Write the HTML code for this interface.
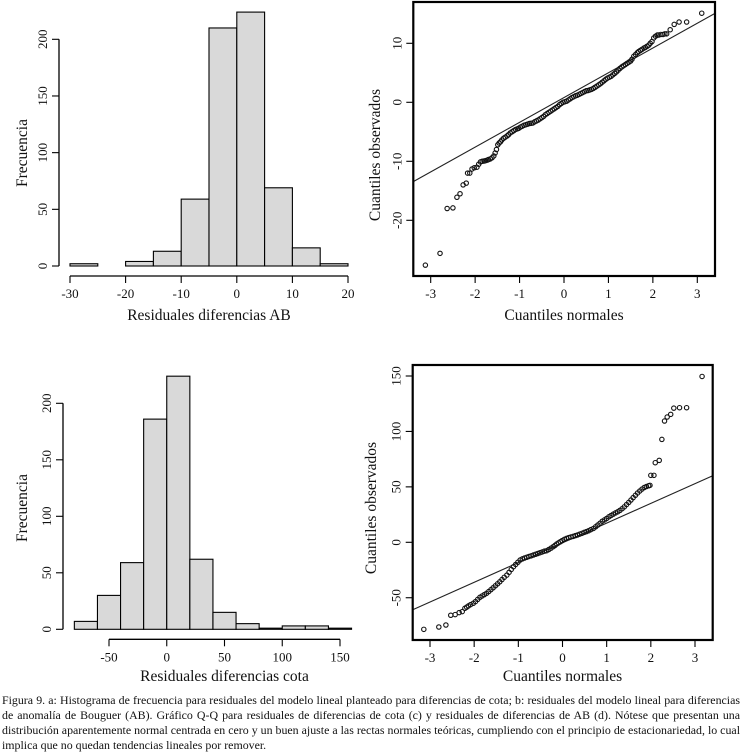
<!DOCTYPE html>
<html><head><meta charset="utf-8">
<style>
html,body{margin:0;padding:0;background:#fff;}
body{width:742px;height:755px;overflow:hidden;position:relative;font-family:"Liberation Serif",serif;}
#cap{position:absolute;left:2px;top:693px;width:738px;font-size:11.9px;line-height:15px;text-align:justify;color:#111;}
svg text{font-family:"Liberation Serif",serif;fill:#111;}
</style></head><body>
<svg id="svg" width="742" height="690" style="position:absolute;left:0;top:0"></svg>
<div id="cap">Figura 9. a: Histograma de frecuencia para residuales del modelo lineal planteado para diferencias de cota; b: residuales del modelo lineal para diferencias de anomalía de Bouguer (AB). Gráfico Q-Q para residuales de diferencias de cota (c) y residuales de diferencias de AB (d). Nótese que presentan una distribución aparentemente normal centrada en cero y un buen ajuste a las rectas normales teóricas, cumpliendo con el principio de estacionariedad, lo cual implica que no quedan tendencias lineales por remover.</div>
<script>
// Histogram AB
const abBinEdges=[-30,-25,-20,-15,-10,-5,0,5,10,15,20];
const abCounts=[2,0,4,13,59,210,224,69,16,2];
const abXTicks=[-30,-20,-10,0,10,20];
const abYTicks=[0,50,100,150,200];
// Histogram cota
const cotaBinEdges=[-80,-60,-40,-20,0,20,40,60,80,100,120,140,160];
const cotaCounts=[7,30,59,186,224,62,15,5,1,3,3,1];
const cotaXTicks=[-50,0,50,100,150];
const cotaYTicks=[0,50,100,150,200];
// QQ AB
const qqAbTheo=[-3.12,-2.79,-2.63,-2.50,-2.41,-2.34,-2.27,-2.20,-2.17,-2.12,-2.07,-2.02,-1.96,-1.92,-1.88,-1.84,-1.80,-1.77,-1.73,-1.70,-1.66,-1.62,-1.58,-1.55,-1.52,-1.49,-1.46,-1.43,-1.40,-1.36,-1.32,-1.28,-1.25,-1.21,-1.17,-1.13,-1.09,-1.05,-1.02,-0.98,-0.94,-0.90,-0.86,-0.82,-0.78,-0.74,-0.70,-0.66,-0.62,-0.58,-0.54,-0.50,-0.46,-0.42,-0.38,-0.34,-0.30,-0.26,-0.22,-0.18,-0.14,-0.10,-0.06,-0.02,0.02,0.06,0.10,0.14,0.18,0.22,0.26,0.30,0.34,0.38,0.42,0.46,0.50,0.54,0.58,0.62,0.66,0.70,0.74,0.78,0.82,0.86,0.90,0.94,0.98,1.02,1.06,1.10,1.14,1.18,1.22,1.26,1.30,1.34,1.38,1.42,1.46,1.50,1.53,1.57,1.61,1.65,1.68,1.72,1.76,1.80,1.83,1.87,1.91,1.94,1.98,2.02,2.06,2.10,2.13,2.18,2.23,2.27,2.31,2.39,2.48,2.59,2.76,3.10];
const qqAbObs=[-27.6,-25.6,-18.0,-17.9,-16.1,-15.5,-14.0,-13.7,-12.0,-12.0,-11.3,-11.1,-11.0,-10.5,-10.1,-10.0,-9.95,-9.9,-9.8,-9.7,-9.6,-9.4,-9.1,-8.6,-8.0,-7.2,-6.9,-6.7,-6.4,-6.1,-5.9,-5.7,-5.5,-5.2,-5.0,-4.8,-4.6,-4.5,-4.4,-4.2,-4.05,-3.9,-3.8,-3.7,-3.6,-3.55,-3.5,-3.3,-3.15,-3.0,-2.8,-2.6,-2.4,-2.1,-1.9,-1.7,-1.5,-1.3,-1.1,-0.9,-0.7,-0.4,-0.2,0.0,0.1,0.2,0.4,0.6,0.8,0.95,1.1,1.2,1.35,1.5,1.65,1.8,1.95,2.0,2.1,2.2,2.35,2.55,2.75,2.95,3.15,3.4,3.65,3.9,4.1,4.25,4.4,4.65,4.9,5.15,5.45,5.75,6.0,6.2,6.4,6.6,6.8,7.0,7.3,7.8,8.1,8.4,8.6,8.8,9.0,9.2,9.3,9.5,9.7,10.0,10.3,10.9,11.2,11.4,11.4,11.5,11.5,11.6,11.6,12.3,13.2,13.6,13.6,15.1];
const qqAbLine=[0.8,4.2]; // intercept, slope
const qqAbXTicks=[-3,-2,-1,0,1,2,3];
const qqAbYTicks=[-20,-10,0,10];
// QQ cota
const qqCotaTheo=[-3.14,-2.80,-2.64,-2.53,-2.43,-2.34,-2.27,-2.21,-2.17,-2.13,-2.08,-2.02,-1.97,-1.92,-1.87,-1.82,-1.77,-1.72,-1.67,-1.62,-1.57,-1.52,-1.47,-1.42,-1.37,-1.32,-1.26,-1.21,-1.16,-1.11,-1.06,-1.01,-0.96,-0.91,-0.86,-0.81,-0.76,-0.71,-0.66,-0.61,-0.56,-0.51,-0.46,-0.41,-0.36,-0.31,-0.26,-0.21,-0.17,-0.13,-0.09,-0.05,-0.01,0.04,0.09,0.14,0.19,0.24,0.29,0.34,0.39,0.44,0.49,0.54,0.59,0.64,0.70,0.75,0.80,0.85,0.90,0.95,1.00,1.05,1.10,1.15,1.20,1.25,1.30,1.35,1.40,1.45,1.50,1.55,1.60,1.65,1.70,1.75,1.80,1.85,1.90,1.95,1.98,2.00,2.07,2.10,2.19,2.25,2.31,2.37,2.45,2.52,2.65,2.81,3.16];
const qqCotaObs=[-78.5,-76.4,-74.6,-65.8,-65.2,-63.4,-62.5,-59.5,-58.5,-57.4,-56.2,-55,-53.5,-51.5,-49.6,-48.4,-47.2,-46,-44.4,-42.7,-41,-39.2,-37.4,-35.6,-33.6,-31.6,-29.6,-27.1,-24.5,-22,-20,-18,-16,-15,-14.2,-13.5,-12.8,-12.2,-11.5,-10.8,-10.1,-9.4,-8.7,-8,-7.6,-6.5,-5.3,-4,-2.8,-1.5,-0.5,0.5,1.5,2.6,3.5,4.2,4.8,5.3,6,6.6,7.4,8.1,8.9,9.6,10.4,11.4,12.5,14,15.6,17.2,19,20.2,21.5,23,24.2,25.4,26.5,27.5,28.8,30.3,32,34,36,38.1,40.3,42.4,44.5,46.3,48,49.4,50.3,51,51.4,60.4,60.4,71.8,73.9,92.8,109.4,113,115.4,121,121.4,121.4,149.6];
const qqCotaLine=[-0.5,17.8];
const qqCotaXTicks=[-3,-2,-1,0,1,2,3];
const qqCotaYTicks=[-50,0,50,100,150];

const NS='http://www.w3.org/2000/svg';
const svg=document.getElementById('svg');
function mk(tag,attrs,parent,txt){const e=document.createElementNS(NS,tag);for(const k in attrs)e.setAttribute(k,attrs[k]);if(txt!==undefined)e.textContent=txt;(parent||svg).appendChild(e);return e;}
function lin(d0,d1,r0,r1){return v=>r0+(v-d0)*(r1-r0)/(d1-d0);}

function yAxis(g,x,ys,ticks,fs){
  const a=mk('line',{x1:x,x2:x,y1:ys(ticks[0]),y2:ys(ticks[ticks.length-1]),stroke:'#000','stroke-width':1.3},g);
  
  ticks.forEach(t=>{
    const l=mk('line',{x1:x-7,x2:x,y1:ys(t),y2:ys(t),stroke:'#000','stroke-width':1.1},g);
    
    const tx=mk('text',{x:x-12,y:ys(t),'font-size':fs,'text-anchor':'middle',transform:`rotate(-90 ${x-12} ${ys(t)})`},g,String(t));
    
  });
}
function xAxis(g,y,xs,ticks,fs){
  const a=mk('line',{x1:xs(ticks[0]),x2:xs(ticks[ticks.length-1]),y1:y,y2:y,stroke:'#000','stroke-width':1.3},g);
  
  ticks.forEach(t=>{
    const l=mk('line',{x1:xs(t),x2:xs(t),y1:y,y2:y+7,stroke:'#000','stroke-width':1.1},g);
    
    const tx=mk('text',{x:xs(t),y:y+22,'font-size':fs,'text-anchor':'middle'},g,String(t));
    
  });
}
function titles(g,xt,xx,xy,yt,yx,yy){
  const a=mk('text',{x:xx,y:xy,'font-size':15.5,'text-anchor':'middle'},g,xt);
  
  const b=mk('text',{x:yx,y:yy,'font-size':15.5,'text-anchor':'middle',transform:`rotate(-90 ${yx} ${yy})`},g,yt);
  
}
function hist(name,edges,counts,xs,ys,xTicks,yTicks,yAxX,xAxY,xt,xtY,ytX,ytY){
  const g=mk('g',{});
  
  counts.forEach((c,i)=>{
    const x0=xs(edges[i]),x1=xs(edges[i+1]);
    const r=mk('rect',{x:x0,y:ys(c),width:x1-x0,height:ys(0)-ys(c),fill:'#d9d9d9',stroke:'#000','stroke-width':1.1},g);
    
  });
  yAxis(g,yAxX,ys,yTicks,13);
  xAxis(g,xAxY,xs,xTicks,13);
  titles(g,xt,(xs(xTicks[0])+xs(xTicks[xTicks.length-1]))/2,xtY,'Frecuencia',ytX,ytY);
}
function qq(name,theo,obs,line,xs,ys,xTicks,yTicks,box,xtY,ytX,ytY){
  const g=mk('g',{});
  
  const cp='clip-'+name;
  const cl=mk('clipPath',{id:cp},g);mk('rect',{x:box[0],y:box[1],width:box[2]-box[0],height:box[3]-box[1]},cl);
  const qa=(box[0]),qb=box[2];
  const inv=lin(xs(0),xs(1),0,1);
  const ta=inv(qa),tb=inv(qb);
  const ln=mk('line',{x1:qa,x2:qb,y1:ys(line[0]+line[1]*ta),y2:ys(line[0]+line[1]*tb),stroke:'#222','stroke-width':1.1,'clip-path':`url(#${cp})`},g);
  
  theo.forEach((t,i)=>{
    const c=mk('circle',{cx:xs(t),cy:ys(obs[i]),r:2.2,fill:'none',stroke:'#111','stroke-width':1.1},g);
    
  });
  const b=mk('rect',{x:box[0],y:box[1],width:box[2]-box[0],height:box[3]-box[1],fill:'none',stroke:'#000','stroke-width':2.2},g);
  
  xTicks.forEach(t=>{
    const l=mk('line',{x1:xs(t),x2:xs(t),y1:box[3],y2:box[3]+7,stroke:'#000','stroke-width':1.1},g);
    
    const tx=mk('text',{x:xs(t),y:box[3]+22,'font-size':13,'text-anchor':'middle'},g,String(t));
    
  });
  yTicks.forEach(t=>{
    const l=mk('line',{x1:box[0]-7,x2:box[0],y1:ys(t),y2:ys(t),stroke:'#000','stroke-width':1.1},g);
    
    const X=box[0]-12;
    const tx=mk('text',{x:X,y:ys(t),'font-size':13,'text-anchor':'middle',transform:`rotate(-90 ${X} ${ys(t)})`},g,String(t));
    
  });
  titles(g,'Cuantiles normales',xs(0),xtY,'Cuantiles observados',ytX,ytY);
}
hist('histogram-ab',abBinEdges,abCounts,lin(-30,20,70,348),lin(0,200,266,39.3),abXTicks,abYTicks,59,276,'Residuales diferencias AB',320,27,153);
hist('histogram-cota',cotaBinEdges,cotaCounts,lin(-50,150,109,340),lin(0,200,629.3,403.3),cotaXTicks,cotaYTicks,63,639.3,'Residuales diferencias cota',681,27,508);
qq('qq-ab',qqAbTheo,qqAbObs,qqAbLine,lin(-3,3,430.7,697.3),lin(0,-20,102.3,220.3),qqAbXTicks,qqAbYTicks,[413.3,2,715,276],320,380,155);
qq('qq-cota',qqCotaTheo,qqCotaObs,qqCotaLine,lin(-3,3,430,695),lin(0,150,542.3,376),qqCotaXTicks,qqCotaYTicks,[412.7,365,712.7,640],681,376,508);
</script>
</body></html>
